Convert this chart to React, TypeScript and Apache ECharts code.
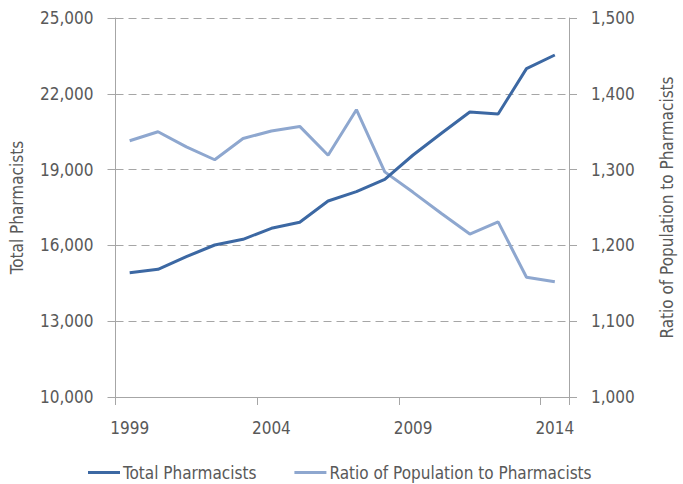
import React, { useEffect, useRef } from "react";
import * as echarts from "echarts";

const years = ["1999","2000","2001","2002","2003","2004","2005","2006","2007","2008","2009","2010","2011","2012","2013","2014"];
const totalPharmacists = [14920, 15054, 15553, 16016, 16242, 16677, 16914, 17758, 18127, 18615, 19578, 20437, 21280, 21201, 22996, 23536];
const ratioPopulation = [1338, 1350, 1330, 1313, 1341, 1351, 1357, 1319, 1379, 1297, 1270, 1242, 1215, 1231, 1158, 1152];
const leftTicks = { min: 10000, max: 25000, interval: 3000 };
const rightTicks = { min: 1000, max: 1500, interval: 100 };

const FONT = "'DejaVu Sans Condensed', 'Liberation Sans Narrow', sans-serif";
const TXT = "#595959";
const AX = "#a6a6a6";
const FS = 17;

export default function App() {
  const ref = useRef<HTMLDivElement>(null);
  useEffect(() => {
    const chart = echarts.init(ref.current!, null, { renderer: "svg" });
    chart.setOption({
      animation: false,
      textStyle: { fontFamily: FONT },
      grid: { left: 115.5, right: 97.5, top: 18, bottom: 87, containLabel: false },
      legend: {
        top: 459,
        left: 83,
        itemWidth: 32,
        itemHeight: 3,
        itemGap: 38,
        icon: "rect",
        textStyle: { fontFamily: FONT, fontSize: FS, color: TXT, padding: [0, 0, 0, -2] },
        data: ["Total Pharmacists", "Ratio of Population to Pharmacists"],
      },
      xAxis: {
        type: "category",
        data: years,
        boundaryGap: true,
        axisLine: { lineStyle: { color: AX, width: 1 } },
        axisTick: { show: true, interval: 4, length: 8, lineStyle: { color: AX } },
        axisLabel: { interval: 4, color: TXT, fontSize: FS, fontFamily: FONT, margin: 22 },
        splitLine: { show: false },
      },
      yAxis: [
        {
          type: "value",
          ...leftTicks,
          name: "Total Pharmacists",
          nameLocation: "middle",
          nameGap: 90,
          nameTextStyle: { color: TXT, fontSize: FS, fontFamily: FONT },
          axisLine: { show: true, lineStyle: { color: AX } },
          axisTick: { show: true, length: 8, lineStyle: { color: AX } },
          axisLabel: {
            color: TXT, fontSize: FS, fontFamily: FONT, margin: 22,
            formatter: (v: number) => v.toLocaleString("en-US"),
          },
          splitLine: { show: true, lineStyle: { color: AX, type: [8, 5], width: 1 } },
        },
        {
          type: "value",
          ...rightTicks,
          name: "Ratio of Population to Pharmacists",
          nameLocation: "middle",
          nameGap: 89,
          nameRotate: 90,
          nameTextStyle: { color: TXT, fontSize: FS, fontFamily: FONT },
          axisLine: { show: true, lineStyle: { color: AX } },
          axisTick: { show: true, length: 8, lineStyle: { color: AX } },
          axisLabel: {
            color: TXT, fontSize: FS, fontFamily: FONT, margin: 22,
            formatter: (v: number) => v.toLocaleString("en-US"),
          },
          splitLine: { show: false },
        },
      ],
      series: [
        {
          name: "Total Pharmacists",
          type: "line",
          yAxisIndex: 0,
          data: totalPharmacists,
          symbol: "none",
          itemStyle: { color: "#3c68a3" },
          lineStyle: { color: "#3c68a3", width: 3 },
          z: 3,
        },
        {
          name: "Ratio of Population to Pharmacists",
          type: "line",
          yAxisIndex: 1,
          data: ratioPopulation,
          symbol: "none",
          itemStyle: { color: "#8ea7cf" },
          lineStyle: { color: "#8ea7cf", width: 3 },
          z: 2,
        },
      ],
    });
    return () => chart.dispose();
  }, []);
  return <div ref={ref} style={{ width: 683, height: 484, position: "absolute", left: 0, top: 0 }} />;
}
